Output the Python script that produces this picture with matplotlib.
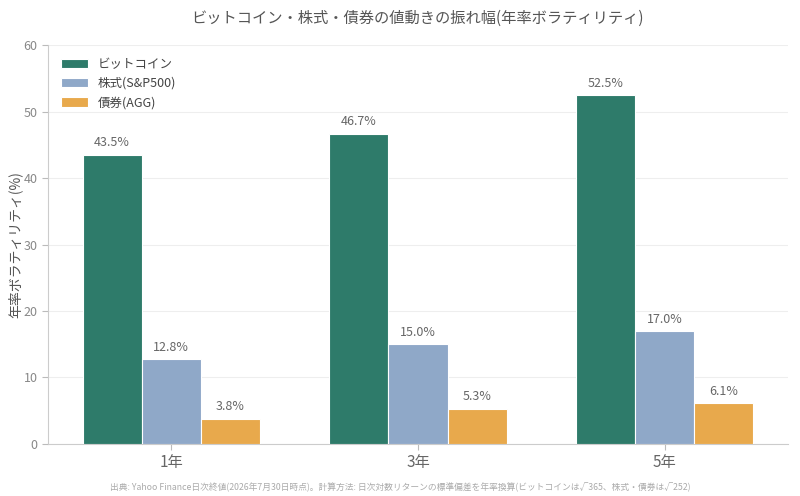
import matplotlib
matplotlib.use("Agg")
import matplotlib.pyplot as plt
import numpy as np

plt.rcParams['font.family'] = ['Noto Sans CJK JP', 'DejaVu Sans']

categories = ["1年", "3年", "5年"]
series_names = ["ビットコイン", "株式(S&P500)", "債券(AGG)"]
btc = [43.5, 46.7, 52.5]
spx = [12.8, 15.0, 17.0]
agg = [3.8, 5.3, 6.1]
colors = ["#2e7b6a", "#8fa8c8", "#e8a94c"]

fig = plt.figure(figsize=(8, 4.96), dpi=100)
ax = fig.add_axes([0.06, 0.105, 0.925, 0.804])

x = np.arange(len(categories))
w = 0.24
for i, (vals, name, c) in enumerate(zip([btc, spx, agg], series_names, colors)):
    bars = ax.bar(x + (i - 1) * w, vals, w, color=c, edgecolor="white", linewidth=0.8, label=name, zorder=3)
    for b, v in zip(bars, vals):
        ax.text(b.get_x() + b.get_width() / 2, v + 0.8, f"{v:.1f}%", ha="center", va="bottom",
                fontsize=9, color="#666666")

ax.set_xlim(-0.5, 2.5)
ax.set_ylim(0, 60)
ax.set_yticks([0, 10, 20, 30, 40, 50, 60])
ax.set_xticks(x)
ax.set_xticklabels(categories, fontsize=11, color="#666666")
ax.tick_params(axis="y", labelsize=9, colors="#888888", length=4, color="#bbbbbb")
ax.tick_params(axis="x", length=4, color="#bbbbbb")
for lab in ax.get_yticklabels():
    lab.set_color("#888888")
ax.grid(axis="y", color="#eeeeee", linewidth=0.8, zorder=0)
ax.set_axisbelow(True)
for s in ["top", "right"]:
    ax.spines[s].set_visible(False)
for s in ["left", "bottom"]:
    ax.spines[s].set_color("#cccccc")
ax.set_ylabel("年率ボラティリティ(%)", fontsize=10, color="#555555", labelpad=0)
ax.yaxis.set_label_coords(-0.034, 0.5)

ax.legend(loc="upper left", frameon=False, fontsize=9, labelcolor="#444444",
          handlelength=2.2, handleheight=0.8, borderaxespad=0.6)

fig.text(0.522, 0.963, "ビットコイン・株式・債券の値動きの振れ幅(年率ボラティリティ)", ha="center", va="center",
         fontsize=11, color="#555555")
fig.text(0.5, 0.017, "出典: Yahoo Finance日次終値(2026年7月30日時点)。計算方法: 日次対数リターンの標準偏差を年率換算(ビットコインは√365、株式・債券は√252)",
         ha="center", va="center", fontsize=6.3, color="#aaaaaa")

fig.savefig("out.png", dpi=100)
